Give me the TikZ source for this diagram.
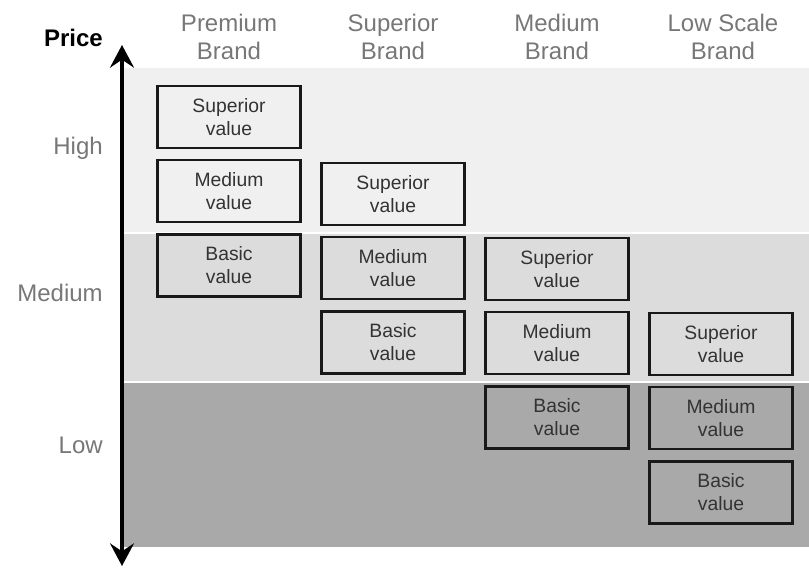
\documentclass[tikz,border=0pt]{standalone}
\usepackage{fontspec}
\setmainfont{Liberation Sans}
\usetikzlibrary{arrows.meta}
\usetikzlibrary{positioning}
\usetikzlibrary{math}

\definecolor{bandhigh}{HTML}{F0F0F0}
\definecolor{bandmed}{HTML}{DCDCDC}
\definecolor{bandlow}{HTML}{A9A9A9}
\definecolor{labelgray}{HTML}{777777}
\definecolor{boxtext}{HTML}{333333}

\begin{document}
\begin{tikzpicture}[x=0.75pt,y=-0.75pt,
  valuebox/.style={draw=black!90, line width=1.9pt, minimum width=107.5pt,
    minimum height=46.5pt, inner sep=0pt, align=center, text=boxtext,
    font=\fontsize{14.5}{17.5}\selectfont},
  brand/.style={align=center, text=labelgray, font=\fontsize{18}{21}\selectfont},
  level/.style={anchor=base east, inner sep=0pt, text=labelgray,
    font=\fontsize{18}{21}\selectfont}]

  \tikzmath{
    \gap = 7.2; % space between two boxes of a column (pt)
  }

  \useasboundingbox (0,0) rectangle (809,567);

  % price bands
  \fill[bandhigh] (123,68)  rectangle (809,232);
  \fill[bandmed]  (123,234) rectangle (809,381);
  \fill[bandlow]  (123,383) rectangle (809,547);

  % price axis
  \coordinate (axis-top) at (122,45);
  \coordinate (axis-bot) at (122,566);
  \draw[line width=2.4pt,
    {Stealth[length=17pt,width=18pt,inset=6pt]}-{Stealth[length=17pt,width=18pt,inset=6pt]}]
    (axis-top) -- (axis-bot);

  \node[level, font=\fontsize{18}{21}\selectfont\bfseries, text=black] (price) at (103,47) {Price};
  \node[level] (high)   at (103,154) {High};
  \node[level] (medium) at (103,301) {Medium};
  \node[level] (low)    at (103,453) {Low};

  % brand headers
  \node[brand] (premium)  at (229,37) {Premium\\Brand};
  \node[brand] (superior) at (393,37) {Superior\\Brand};
  \node[brand] (mediumb)  at (557,37) {Medium\\Brand};
  \node[brand] (lowscale) at (723,37) {Low Scale\\Brand};

  % premium brand
  \node[valuebox, fill=bandhigh] (prem-sup) at (229,117) {Superior\\value};
  \node[valuebox, fill=bandhigh, below=\gap pt of prem-sup] (prem-med) {Medium\\value};
  \node[valuebox, fill=bandmed,  below=\gap pt of prem-med] (prem-bas) {Basic\\value};

  % superior brand
  \node[valuebox, fill=bandhigh] (sup-sup) at (393,194) {Superior\\value};
  \node[valuebox, fill=bandmed, below=\gap pt of sup-sup] (sup-med) {Medium\\value};
  \node[valuebox, fill=bandmed, below=\gap pt of sup-med] (sup-bas) {Basic\\value};

  % medium brand
  \node[valuebox, fill=bandmed] (med-sup) at (557,269) {Superior\\value};
  \node[valuebox, fill=bandmed, below=\gap pt of med-sup] (med-med) {Medium\\value};
  \node[valuebox, fill=bandlow, below=\gap pt of med-med] (med-bas) {Basic\\value};

  % low scale brand
  \node[valuebox, fill=bandmed] (low-sup) at (721,344) {Superior\\value};
  \node[valuebox, fill=bandlow, below=\gap pt of low-sup] (low-med) {Medium\\value};
  \node[valuebox, fill=bandlow, below=\gap pt of low-med] (low-bas) {Basic\\value};

\end{tikzpicture}
\end{document}
